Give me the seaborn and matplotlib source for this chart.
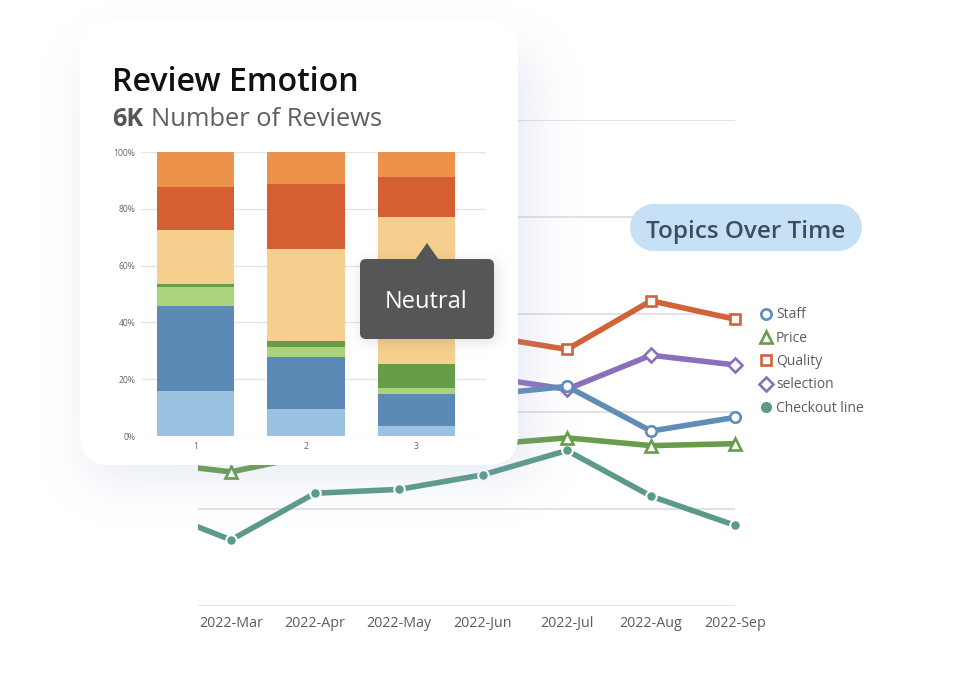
# Topics over time line chart with the review emotion card on top
import math

import matplotlib
matplotlib.use("Agg")
import matplotlib.pyplot as plt
import numpy as np
import seaborn as sns
import pandas as pd
from matplotlib.colors import to_rgb
from matplotlib.lines import Line2D
from matplotlib.patches import FancyBboxPatch, Polygon

W, H = 966, 680

months = ["2022-Feb", "2022-Mar", "2022-Apr", "2022-May", "2022-Jun", "2022-Jul", "2022-Aug", "2022-Sep"]
month_pos = [-1, 0, 1, 2, 3, 4, 5, 6]

staff = [19.0, 19.5, 20.0, 20.5, 21.7, 22.6, 18.0, 19.4]
price = [14.8, 13.8, 15.6, 16.0, 16.6, 17.3, 16.5, 16.7]
quality = [27.0, 28.0, 29.0, 28.5, 27.8, 26.4, 31.4, 29.5]
selection = [22.0, 22.5, 23.0, 23.5, 23.6, 22.3, 25.8, 24.8]
checkout = [10.2, 6.8, 11.6, 12.0, 13.5, 16.0, 11.3, 8.3]

bar_names = ["1", "2", "3"]
seg_light_blue = [15.7, 9.6, 3.4]
seg_blue = [30.1, 18.1, 11.3]
seg_light_green = [6.7, 3.6, 2.3]
seg_green = [1.0, 2.1, 8.5]
seg_neutral = [19.0, 32.4, 51.6]
seg_red = [15.2, 22.8, 14.2]
seg_orange = [12.3, 11.4, 8.7]

sns.set_theme(style="white")
plt.rcParams["font.family"] = ["Open Sans", "DejaVu Sans"]

TXT = "#5c5c5c"
GRID = "#dcdde1"


def box(x0, y0, x1, y1):
    return [x0 / W, 1 - y1 / H, (x1 - x0) / W, (y1 - y0) / H]


def blur_edge(n, lo, hi, sigma):
    # gaussian blurred box along one direction
    s = sigma * math.sqrt(2)
    return np.array([0.5 * (math.erf((i + 0.5 - lo) / s) - math.erf((i + 0.5 - hi) / s)) for i in range(n)])


def soft_shadow(axis, x0, y0, x1, y1, color, peak, sigma):
    rgba = np.zeros((H, W, 4))
    rgba[..., :3] = to_rgb(color)
    rgba[..., 3] = peak * np.outer(blur_edge(H, y0, y1, sigma), blur_edge(W, x0, x1, sigma))
    axis.imshow(rgba, extent=(0, W, H, 0), aspect="auto", interpolation="nearest", zorder=0)


fig = plt.figure(figsize=(W / 100, H / 100), dpi=100, facecolor="white")

# back chart
ax = fig.add_axes(box(198, 120, 760, 606), zorder=1)
ax.patch.set_alpha(0)
left = -33 / 84
ax.set_xlim(left, 529 / 84)
ax.set_ylim(0, 50)
ax.hlines([0, 10, 20, 30, 40, 50], left, 6, color=GRID, lw=1.2, zorder=0)

series = [
    ("Checkout line", checkout, "#5b9a8b", "o"),
    ("Price", price, "#699c4c", "^"),
    ("Quality", quality, "#d26238", "s"),
    ("selection", selection, "#8b6fbd", "D"),
    ("Staff", staff, "#5f8db8", "o"),
]
marker_size = {"^": 8.5, "s": 7, "D": 7.5, "o": 7.6}
for name, vals, col, mk in series:
    df = pd.DataFrame({"x": month_pos, "y": vals})
    if name == "Checkout line":
        sns.lineplot(data=df, x="x", y="y", ax=ax, color=col, lw=4, marker="o", ms=7.6,
                     markerfacecolor=col, markeredgecolor="white", markeredgewidth=1.5)
    else:
        sns.lineplot(data=df, x="x", y="y", ax=ax, color=col, lw=4, marker=mk, ms=marker_size[mk],
                     markerfacecolor="white", markeredgecolor=col, markeredgewidth=1.9)

sns.despine(ax=ax, left=True, bottom=True, top=True, right=True)
ax.set_xlabel("")
ax.set_ylabel("")
ax.set_yticks([])
ax.set_xticks(range(7))
ax.set_xticklabels(months[1:], fontsize=10.3, color=TXT)
ax.tick_params(axis="x", length=0, pad=7)

handles = [
    Line2D([], [], ls="none", marker="o", ms=7.4, mfc="white", mec="#5f8db8", mew=1.9, label="Staff"),
    Line2D([], [], ls="none", marker="^", ms=8.5, mfc="white", mec="#699c4c", mew=1.9, label="Price"),
    Line2D([], [], ls="none", marker="s", ms=7, mfc="white", mec="#d26238", mew=1.9, label="Quality"),
    Line2D([], [], ls="none", marker="D", ms=7.5, mfc="white", mec="#8b6fbd", mew=1.9, label="selection"),
    Line2D([], [], ls="none", marker="o", ms=7, mfc="#5b9a8b", mec="#5b9a8b", label="Checkout line"),
]
ax.legend(handles=handles, loc="upper left", bbox_to_anchor=(755 / W, 1 - 307.5 / H),
          bbox_transform=fig.transFigure, frameon=False, fontsize=10, labelcolor=TXT,
          labelspacing=0.6, handletextpad=-0.1, borderpad=0, borderaxespad=0, handlelength=1.6)

# shadow, card, pill and tooltip live on pixel axes
deco = fig.add_axes([0, 0, 1, 1], zorder=2)
deco.patch.set_alpha(0)
soft_shadow(deco, 90, 55, 530, 475, "#8da3cf", 0.24, 25)
deco.set_xlim(0, W)
deco.set_ylim(H, 0)
deco.axis("off")
deco.add_patch(FancyBboxPatch((80, 20), 438, 445, boxstyle="round,pad=0,rounding_size=30",
                              fc="white", ec="none", zorder=1))

deco.plot([652.5, 838], [227, 227], color="#c6e1f5", lw=47 * 0.72, solid_capstyle="round", zorder=1)
deco.text(746, 232, "Topics Over Time", fontsize=17.5, fontweight="semibold", color="#3d4d5c",
          ha="center", va="center", zorder=2)

deco.text(112, 91, "Review Emotion", fontsize=23.1, fontweight="semibold", color="#111111",
          va="baseline", zorder=2)
deco.text(112, 126, "6K", fontsize=18.2, fontweight="bold", color="#555555", va="baseline", zorder=2)
deco.text(151, 126, "Number of Reviews", fontsize=18.4, color="#5f5f5f", va="baseline", zorder=2)

# stacked bars in the card
inner = fig.add_axes(box(141, 152, 486, 436), zorder=3)
inner.patch.set_alpha(0)
segments = [
    (seg_light_blue, "#9ac2e1"),
    (seg_blue, "#5b8ab7"),
    (seg_light_green, "#abd37b"),
    (seg_green, "#679d48"),
    (seg_neutral, "#f5cf8d"),
    (seg_red, "#d35f33"),
    (seg_orange, "#ec924b"),
]
bottom = [0, 0, 0]
for vals, col in segments:
    df = pd.DataFrame({"bar": bar_names, "pct": vals})
    sns.barplot(data=df, x="bar", y="pct", ax=inner, color=col, saturation=1, width=0.7,
                bottom=bottom, linewidth=0, zorder=2)
    bottom = [b + v for b, v in zip(bottom, vals)]

inner.set_xlim(-54.5 / 110.5, 290.5 / 110.5)
inner.set_ylim(0, 100)
inner.set_yticks([0, 20, 40, 60, 80, 100])
inner.set_yticklabels(["0%", "20%", "40%", "60%", "80%", "100%"])
inner.tick_params(axis="both", length=0, pad=4, labelsize=6.2, labelcolor="#666666")
inner.grid(axis="y", color="#e3e4e8", lw=0.9, zorder=0)
inner.set_axisbelow(True)
inner.set_xlabel("")
inner.set_ylabel("")
sns.despine(ax=inner, left=True, bottom=True)

# tooltip on top of the bars
over = fig.add_axes([0, 0, 1, 1], zorder=4)
over.patch.set_alpha(0)
soft_shadow(over, 362, 263, 496, 341, "#555555", 0.2, 7)
over.set_xlim(0, W)
over.set_ylim(H, 0)
over.axis("off")
over.add_patch(FancyBboxPatch((360, 259), 134, 80, boxstyle="round,pad=0,rounding_size=6",
                              fc="#565656", ec="none", zorder=1))
over.add_patch(Polygon([(415, 260), (427, 243), (439, 260)], closed=True, fc="#565656", ec="none", zorder=1))
over.text(426, 302, "Neutral", fontsize=17, color="white", ha="center", va="center", zorder=2)

fig.savefig("out.png", dpi=100)
